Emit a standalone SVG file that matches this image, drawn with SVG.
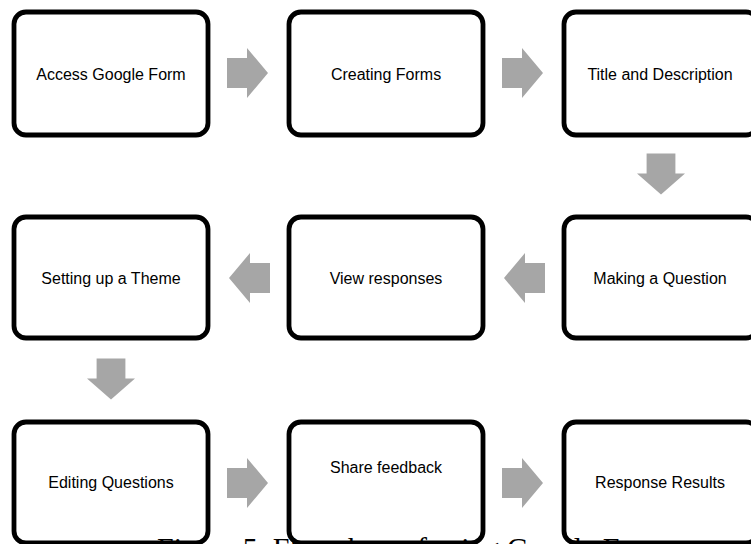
<svg xmlns="http://www.w3.org/2000/svg" width="751" height="544" viewBox="0 0 751 544">
<style>
.box{fill:#ffffff;stroke:#000000;stroke-width:4.8}
.lbl{font-family:"Liberation Sans",Arial,sans-serif;font-size:16px;fill:#000000;text-anchor:middle}
.arr{fill:#a6a6a6}
.cap{font-family:"Liberation Serif","Times New Roman",serif;font-size:30px;fill:#000000}
</style>
<defs>
<path id="ra" d="M-20.5,-15 H-0.5 V-25 L20.5,0 L-0.5,25 V15 H-20.5 Z"/>
</defs>
<rect width="751" height="544" fill="#ffffff"/>
<g id="connectors" class="arr">
<use href="#ra" transform="translate(247.5,73)"/>
<use href="#ra" transform="translate(522.5,73)"/>
<use href="#ra" transform="translate(661,174) rotate(90) scale(1,0.96)"/>
<use href="#ra" transform="translate(524.5,278) rotate(180)"/>
<use href="#ra" transform="translate(249.5,278) rotate(180)"/>
<use href="#ra" transform="translate(111,379) rotate(90) scale(1,0.96)"/>
<use href="#ra" transform="translate(247.5,483)"/>
<use href="#ra" transform="translate(522.5,483)"/>
</g>
<g id="n1"><rect class="box" x="14" y="12" width="194" height="123" rx="12"/><text class="lbl" x="111" y="80">Access Google Form</text></g>
<g id="n2"><rect class="box" x="289" y="12" width="194" height="123" rx="12"/><text class="lbl" x="386" y="80">Creating Forms</text></g>
<g id="n3"><rect class="box" x="564" y="12" width="194" height="123" rx="12"/><text class="lbl" x="660" y="80">Title and Description</text></g>
<g id="n4"><rect class="box" x="564" y="217" width="194" height="121" rx="12"/><text class="lbl" x="660" y="284">Making a Question</text></g>
<g id="n5"><rect class="box" x="289" y="217" width="194" height="121" rx="12"/><text class="lbl" x="386" y="284">View responses</text></g>
<g id="n6"><rect class="box" x="14" y="217" width="194" height="121" rx="12"/><text class="lbl" x="111" y="284">Setting up a Theme</text></g>
<g id="n7"><rect class="box" x="14" y="422" width="194" height="121" rx="12"/><text class="lbl" x="111" y="488">Editing Questions</text></g>
<g id="n8"><rect class="box" x="289" y="422" width="194" height="121" rx="12"/><text class="lbl" x="386" y="473">Share feedback</text></g>
<g id="n9"><rect class="box" x="564" y="422" width="194" height="121" rx="12"/><text class="lbl" x="660" y="488">Response Results</text></g>
<text class="cap" x="157" y="558">Figure 5. Flowchart of using Google Form</text>
</svg>
